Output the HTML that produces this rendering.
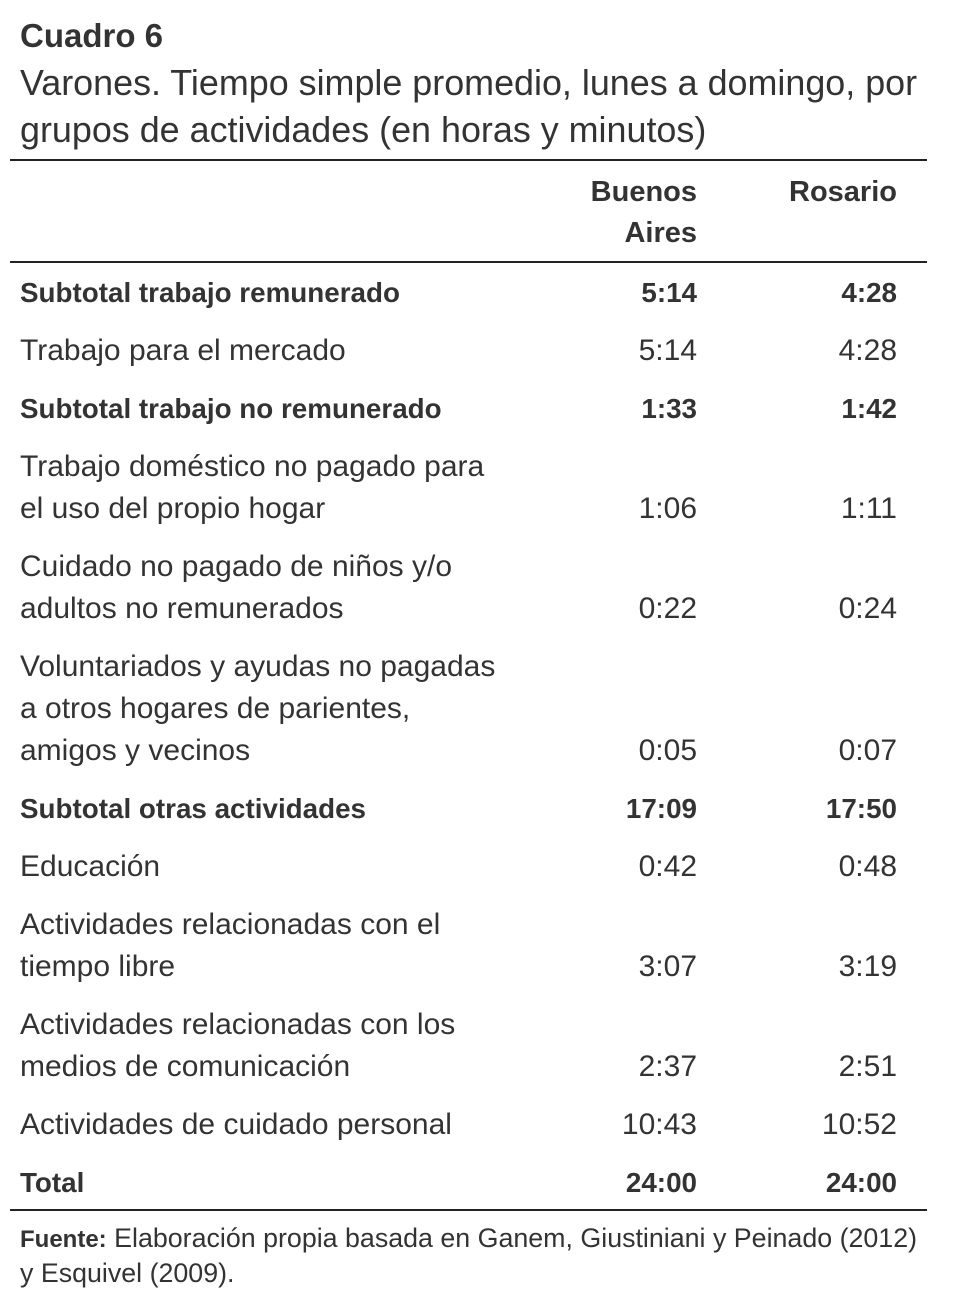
<!DOCTYPE html>
<html><head><meta charset="utf-8"><style>
body{margin:0;width:978px;height:1306px;background:#fff;position:relative;font-family:"Liberation Sans",sans-serif;color:#333;overflow:hidden}
.t{position:absolute;white-space:nowrap;line-height:40px;height:40px}
.b{font-weight:bold}
.r{text-align:right;width:200px}
.rule{position:absolute;left:10px;width:917px;height:2px;background:#222}
.row{font-size:30px}
.row.b{font-size:27.8px}
</style></head><body>
<div class="t b" style="left:20px;top:16px;font-size:33px">Cuadro 6</div>
<div class="t" style="left:20px;top:63px;font-size:35.9px">Varones. Tiempo simple promedio, lunes a domingo, por</div>
<div class="t" style="left:20px;top:110px;font-size:35.9px">grupos de actividades (en horas y minutos)</div>
<div class="rule" style="top:159px"></div>
<div class="t b r row" style="left:497px;top:172px;font-size:29px">Buenos</div>
<div class="t b r row" style="left:497px;top:213px;font-size:29px">Aires</div>
<div class="t b r row" style="left:697px;top:172px;font-size:29px">Rosario</div>
<div class="rule" style="top:261px"></div>
<div id="rows"></div>
<div class="rule" style="top:1209px"></div>
<div class="t" style="left:20px;top:1218px;font-size:26.8px"><b style="font-size:24px">Fuente:</b> Elaboración propia basada en Ganem, Giustiniani y Peinado (2012)</div>
<div class="t" style="left:20px;top:1253px;font-size:26.8px">y Esquivel (2009).</div>
<script>
const labels=[["Subtotal trabajo remunerado"],["Trabajo para el mercado"],["Subtotal trabajo no remunerado"],["Trabajo doméstico no pagado para","el uso del propio hogar"],["Cuidado no pagado de niños y/o","adultos no remunerados"],["Voluntariados y ayudas no pagadas","a otros hogares de parientes,","amigos y vecinos"],["Subtotal otras actividades"],["Educación"],["Actividades relacionadas con el","tiempo libre"],["Actividades relacionadas con los","medios de comunicación"],["Actividades de cuidado personal"],["Total"]];
const buenosAires=["5:14","5:14","1:33","1:06","0:22","0:05","17:09","0:42","3:07","2:37","10:43","24:00"];
const rosario=["4:28","4:28","1:42","1:11","0:24","0:07","17:50","0:48","3:19","2:51","10:52","24:00"];
const bold=[1,0,1,0,0,0,1,0,0,0,0,1];
const root=document.getElementById('rows');
let y=293;
labels.forEach((ls,i)=>{
  const g=document.createElement('div');
  
  
  ls.forEach((l,j)=>{
    const d=document.createElement('div');
    
    
    d.className='t row'+(bold[i]?' b':'');
    d.style.left='20px';d.style.top=(y+j*42-20)+'px';d.textContent=l;g.appendChild(d);
  });
  const last=y+(ls.length-1)*42;
  [[buenosAires[i],497],[rosario[i],697]].forEach(([v,x])=>{
    const d=document.createElement('div');
    
    
    d.className='t r row'+(bold[i]?' b':'');
    d.style.left=x+'px';d.style.top=(last-20)+'px';d.textContent=v;g.appendChild(d);
  });
  root.appendChild(g);
  y=last+58;
});
</script>
</body></html>
